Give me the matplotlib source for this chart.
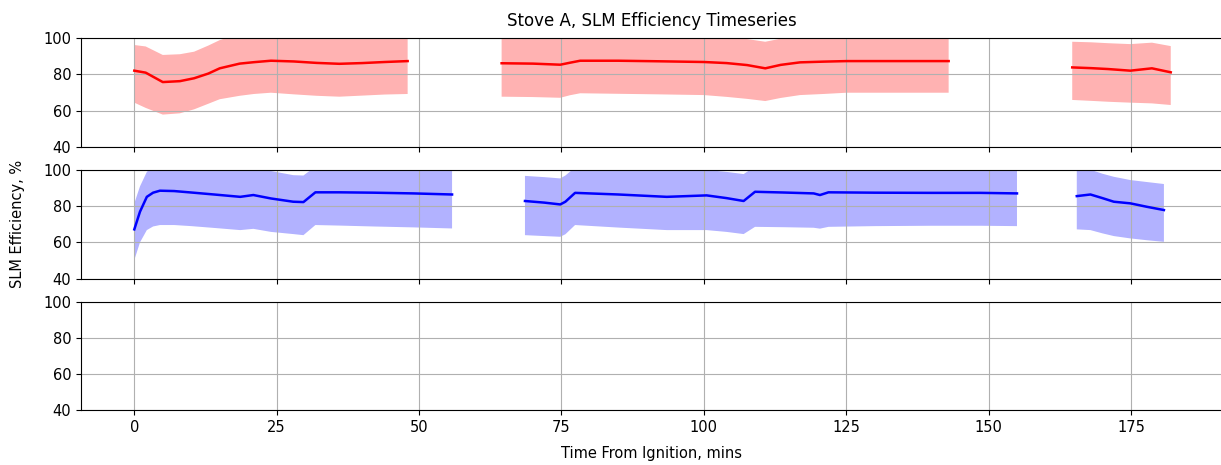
import numpy as np
import matplotlib
matplotlib.use('Agg')
import matplotlib.pyplot as plt

nan = np.nan

# Stove A, SLM efficiency: mean and band per test period (nan separates the periods)
red_t = [0, 2, 5, 8, 10.5, 13, 15, 18.5, 21, 24, 28, 32, 36, 40, 44, 48, nan,
         64.5, 70, 74.8, 76.5, 78.3, 85, 92, 100, 104, 107.6, 110.8, 113.5, 116.9, 121, 125.1, 134, 143, nan,
         164.7, 168, 171, 174.9, 178.7, 182]
red_mean = [82.1, 81.0, 75.8, 76.3, 77.9, 80.5, 83.4, 86.0, 86.8, 87.6, 87.2, 86.4, 85.9, 86.3, 86.9, 87.4, nan,
            86.2, 86.0, 85.4, 86.5, 87.6, 87.6, 87.3, 86.9, 86.3, 85.2, 83.4, 85.3, 86.7, 87.1, 87.4, 87.4, 87.4, nan,
            83.9, 83.5, 83.0, 82.1, 83.4, 81.2]
red_lo = [64.4, 61.5, 57.8, 58.5, 60.7, 63.8, 66.3, 68.2, 69.2, 69.9, 69.0, 68.2, 67.7, 68.3, 68.9, 69.2, nan,
          67.7, 67.5, 67.1, 68.5, 69.6, 69.3, 69.0, 68.6, 67.6, 66.5, 65.3, 67.0, 68.6, 69.2, 69.9, 69.9, 69.9, nan,
          65.9, 65.4, 64.9, 64.4, 64.0, 63.1]
red_hi = [96.3, 95.5, 90.8, 91.2, 92.6, 96.0, 99.0, 102.5, 104, 105.5, 105, 104.5, 104, 104.5, 105, 105.5, nan,
          102, 102, 101.5, 102.5, 104, 104, 103, 102, 101, 99.6, 98.1, 99.8, 101.5, 103, 104, 104, 104, nan,
          98.1, 97.8, 97.3, 96.8, 97.6, 95.7]

blue_t = [0, 1, 2.2, 3.3, 4.5, 7, 10, 14, 18.6, 20.9, 24, 27.9, 29.7, 31.8, 36, 42, 49, 55.8, nan,
          68.6, 72, 74.8, 75.7, 77.4, 85, 93.5, 100.5, 104, 107, 109, 114, 119.3, 120.4, 121.9, 130, 140, 148.6, 155, nan,
          165.5, 167.9, 170, 172, 174.9, 177.8, 180.8]
blue_mean = [67.2, 77, 85.2, 87.5, 88.6, 88.4, 87.6, 86.5, 85.2, 86.2, 84.3, 82.5, 82.3, 87.7, 87.7, 87.5, 87.1, 86.5, nan,
             82.9, 82.0, 81.0, 82.5, 87.4, 86.5, 85.2, 86.0, 84.5, 82.9, 88.0, 87.6, 87.1, 86.2, 87.7, 87.5, 87.4, 87.4, 87.1, nan,
             85.6, 86.5, 84.5, 82.5, 81.6, 79.7, 77.9]
blue_lo = [50.2, 60, 66.8, 68.8, 69.6, 69.6, 69.0, 68.0, 66.8, 67.5, 65.8, 64.6, 64.0, 69.6, 69.3, 68.8, 68.3, 67.7, nan,
           64.0, 63.5, 63.1, 64.5, 69.6, 68.2, 66.8, 66.8, 65.8, 64.6, 68.6, 68.4, 68.1, 67.6, 68.6, 69, 69.2, 69.2, 69.0, nan,
           67.2, 66.8, 65.0, 63.5, 62.2, 61.2, 60.3]
blue_hi = [81.6, 91, 99, 102, 104, 104, 103, 102, 101, 101.5, 99.5, 97.2, 97.0, 102, 102.5, 102.5, 102, 101.5, nan,
           96.8, 96.1, 95.4, 97, 101.5, 101, 100.5, 100.1, 99, 97.8, 102, 102, 101.5, 101, 102, 102, 102, 102, 102, nan,
           99.5, 100.2, 98.0, 96.3, 94.5, 93.4, 92.3]

fig, axs = plt.subplots(3, 1, sharex=True, figsize=(12.21, 4.65), dpi=100)
fig.subplots_adjust(left=81/1221, right=1222/1221, bottom=0.1176, top=0.9176, hspace=0.215)

axs[0].plot(red_t, red_mean, color='red', lw=1.8)
axs[0].fill_between(red_t, red_lo, red_hi, color='red', alpha=0.3, lw=0)
axs[1].plot(blue_t, blue_mean, color='blue', lw=1.8)
axs[1].fill_between(blue_t, blue_lo, blue_hi, color='blue', alpha=0.3, lw=0)

for ax in axs:
    ax.set_ylim(40, 100)
    ax.set_yticks([40, 60, 80, 100])
    ax.grid(True)
    ax.tick_params(labelsize=10.5)

axs[2].set_xlim(-9.36, 191)
axs[2].set_xticks([0, 25, 50, 75, 100, 125, 150, 175])
axs[0].set_title('Stove A, SLM Efficiency Timeseries', fontsize=12, pad=9)
axs[1].set_ylabel('SLM Efficiency, %', fontsize=10.5, labelpad=13)
axs[2].set_xlabel('Time From Ignition, mins', fontsize=10.5, labelpad=8)

fig.savefig('out.png', dpi=100)
